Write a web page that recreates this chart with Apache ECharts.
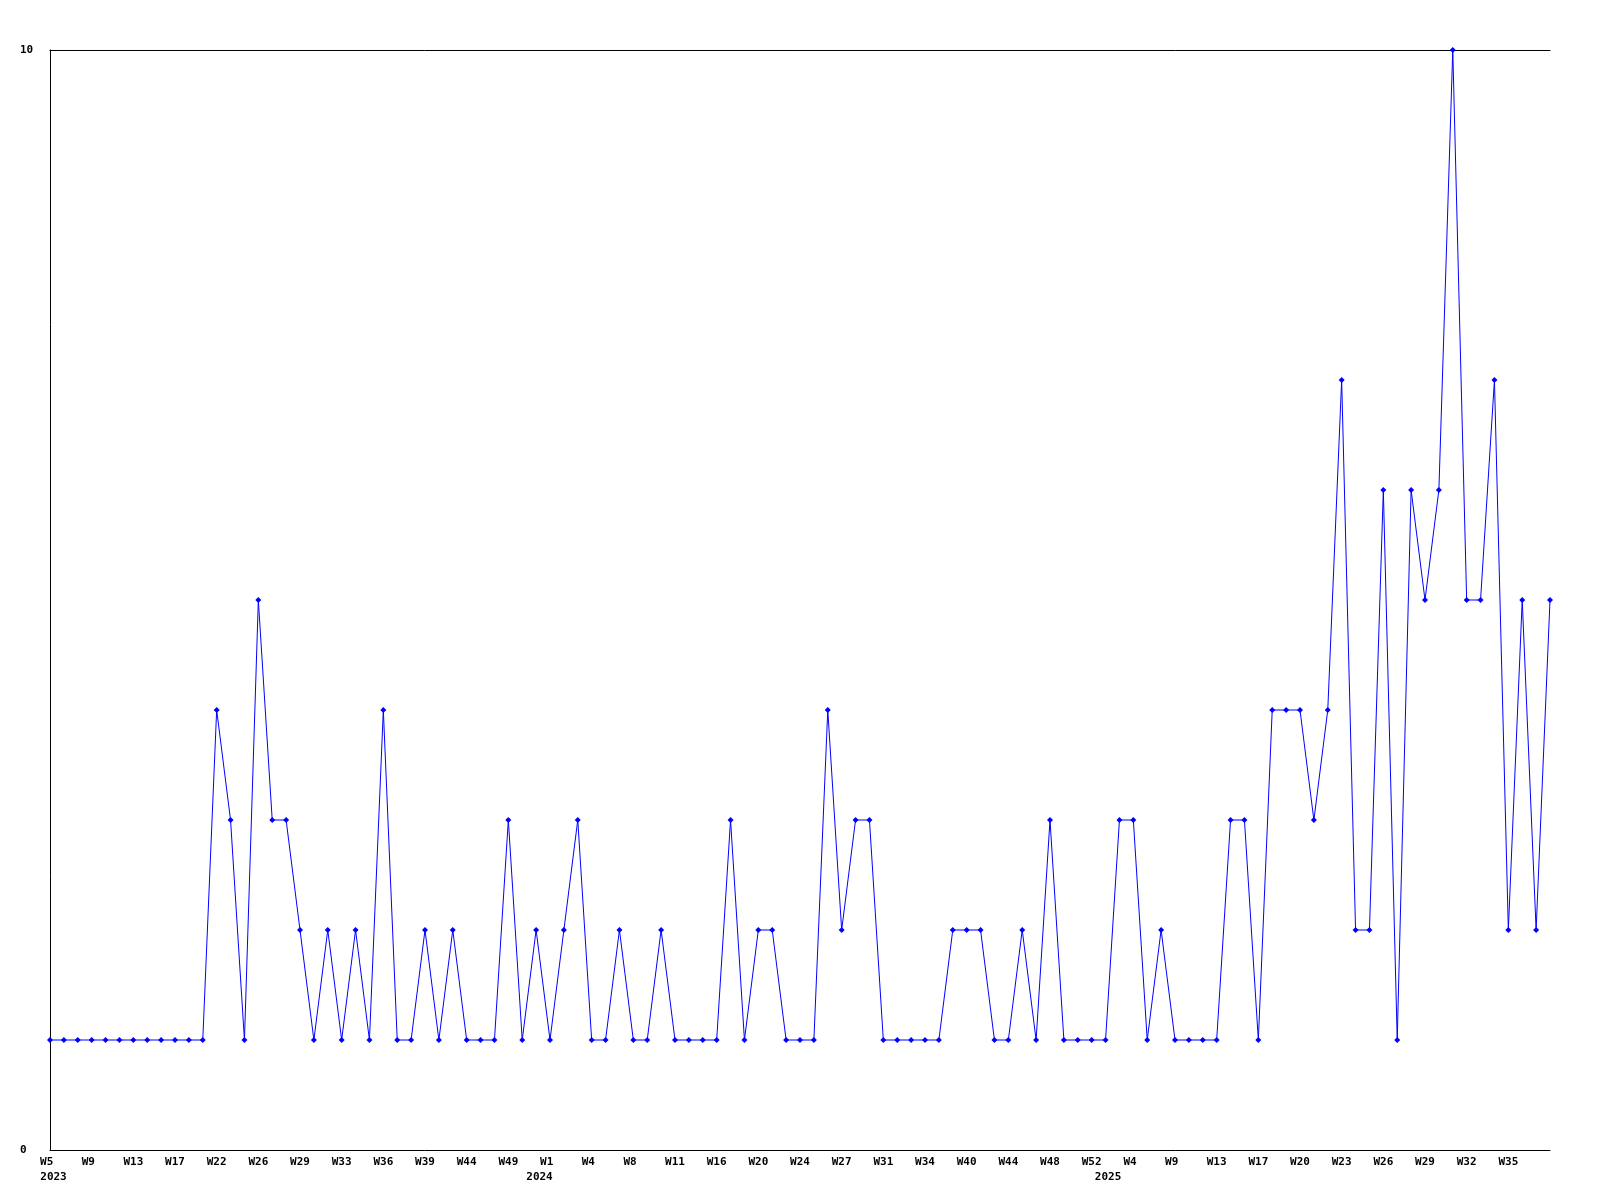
<!DOCTYPE html>
<html>
<head>
<meta charset="utf-8">
<script src="https://cdn.jsdelivr.net/npm/echarts@6/dist/echarts.min.js"></script>
<style>html,body{margin:0;padding:0;background:#fff}#c{width:1600px;height:1200px}</style>
</head>
<body>
<div id="c"></div>
<script>
const weeks = [
  'W5','W6','W7','W9','W10','W11','W13','W14','W15','W17','W19','W20',
  'W22','W23','W24','W26','W27','W28','W29','W31','W32','W33','W34','W35',
  'W36','W37','W38','W39','W41','W43','W44','W46','W47','W49','W50','W51',
  'W1','W2','W3','W4','W6','W7','W8','W9','W10','W11','W13','W14',
  'W16','W17','W18','W20','W21','W22','W24','W25','W26','W27','W29','W30',
  'W31','W32','W33','W34','W36','W38','W40','W41','W43','W44','W45','W47',
  'W48','W49','W51','W52',
  'W1','W2','W4','W5','W7','W9','W10','W11','W13','W14','W16','W17',
  'W18','W19','W20','W21','W22','W23','W24','W25','W26','W27','W28','W29',
  'W30','W31','W32','W33','W34','W35','W36','W37','W38'
];
const yearLabels = { 0: '2023', 36: '2024', 76: '2025' };
const values = [
  1,1,1,1,1,1,1,1,1,1,1,1,
  4,3,1,5,3,3,2,1,2,1,2,1,
  4,1,1,2,1,2,1,1,1,3,1,2,
  1,2,3,1,1,2,1,1,2,1,1,1,
  1,3,1,2,2,1,1,1,4,2,3,3,
  1,1,1,1,1,2,2,2,1,1,2,1,
  3,1,1,1,1,3,3,1,2,1,1,1,
  1,3,3,1,4,4,4,3,4,7,2,2,
  6,1,6,5,6,10,5,5,7,2,5,2,5
];
const yTicks = [0, 10];

const FONT = 'DejaVu Sans Mono';
const lastIdx = weeks.length - 1;
const chart = echarts.init(document.getElementById('c'));
chart.setOption({
  animation: false,
  backgroundColor: '#ffffff',
  grid: { left: 50, right: 50, top: 50, bottom: 50, containLabel: false },
  xAxis: [
    {
      type: 'category', data: weeks, boundaryGap: false, position: 'bottom',
      axisLine: { show: true, lineStyle: { color: '#000', width: 1 } },
      axisTick: { show: false },
      splitLine: { show: false },
      axisLabel: {
        interval: (i) => i % 3 === 0 && i < lastIdx, margin: 7, color: '#000',
        fontFamily: FONT, fontWeight: 'bold', fontSize: 11,
        formatter: v => (v.length < 3 ? v + ' ' : v)
      }
    },
    {
      type: 'category', data: weeks, boundaryGap: false, position: 'bottom', offset: 15,
      axisLine: { show: false }, axisTick: { show: false }, splitLine: { show: false },
      axisLabel: {
        interval: (i) => yearLabels[i] !== undefined, margin: 7, color: '#000',
        fontFamily: FONT, fontWeight: 'bold', fontSize: 11,
        formatter: (v, i) => {
          const y = yearLabels[i] || '';
          if (i === 0) return '{l|' + y + '}';
          if (i === 36) return '{r|' + y + '}';
          return '{c|' + y + '}';
        },
        rich: {
          l: { fontFamily: FONT, fontWeight: 'bold', fontSize: 11, color: '#000', padding: [0, 0, 0, 7] },
          r: { fontFamily: FONT, fontWeight: 'bold', fontSize: 11, color: '#000', padding: [0, 21, 0, 0] },
          c: { fontFamily: FONT, fontWeight: 'bold', fontSize: 11, color: '#000', padding: [0, 0, 0, 5] }
        }
      }
    },
    {
      type: 'category', data: weeks, boundaryGap: false, position: 'top',
      axisLine: { show: true, lineStyle: { color: '#000', width: 1 } },
      axisTick: { show: false }, axisLabel: { show: false }, splitLine: { show: false }
    }
  ],
  yAxis: {
    type: 'value', min: yTicks[0], max: yTicks[1], interval: 10,
    axisLine: { show: true, lineStyle: { color: '#000', width: 1 } },
    axisTick: { show: false },
    splitLine: { show: false },
    axisLabel: {
      align: 'left', margin: 30, color: '#000',
      fontFamily: FONT, fontWeight: 'bold', fontSize: 11
    }
  },
  series: [{
    type: 'line', xAxisIndex: 0, data: values,
    symbol: 'diamond', symbolSize: 6, showAllSymbol: true,
    lineStyle: { color: '#0000ff', width: 1 },
    itemStyle: { color: '#0000ff' }
  }]
});
</script>
</body>
</html>
